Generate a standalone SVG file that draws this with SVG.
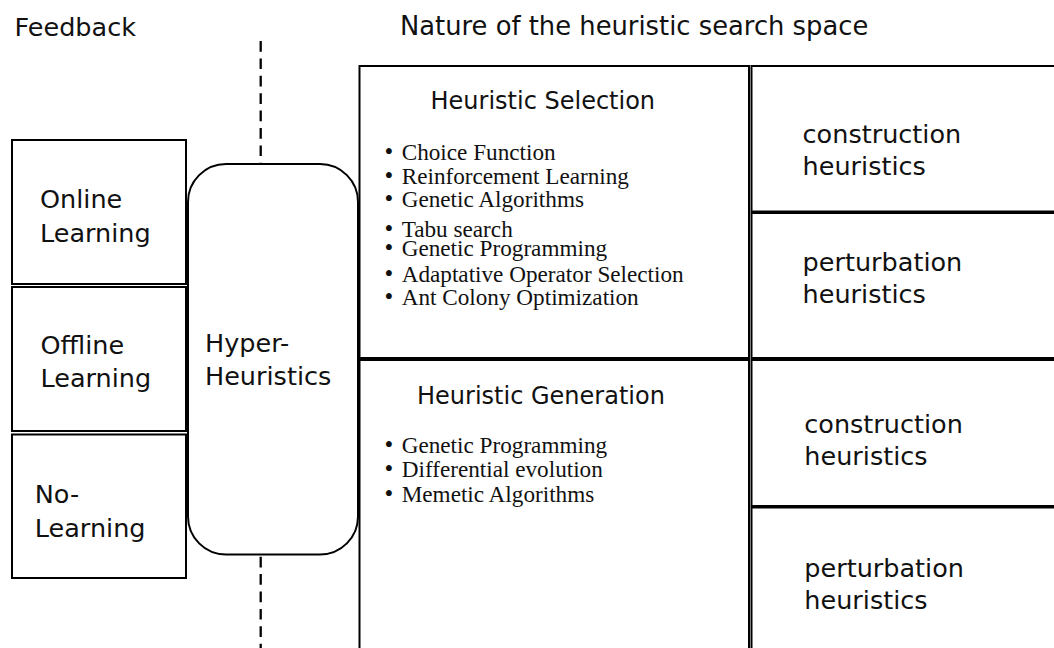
<svg xmlns="http://www.w3.org/2000/svg" width="1054" height="648" viewBox="0 0 1054 648">
  <style>
    .box { fill: #ffffff; stroke: #000000; stroke-width: 2; }
    .sans { font-family: "DejaVu Sans", "Liberation Sans", sans-serif; font-size: 25.5px; fill: #111111; }
    .title { font-size: 24px; }
    .serif { font-family: "Liberation Serif", "DejaVu Serif", serif; font-size: 23.2px; fill: #111111; }
    .dot { font-size: 25px; }
    .sep { stroke: #000000; stroke-width: 2.3; stroke-dasharray: 10.7 6.7; fill: none; }
  </style>
  <rect x="0" y="0" width="1054" height="648" fill="#ffffff"/>

  <!-- column headings -->
  <g id="headings">
    <text class="sans" x="14.5" y="36">Feedback</text>
    <text class="sans" x="400" y="35" style="font-size:25.8px">Nature of the heuristic search space</text>
  </g>

  <!-- dashed separator between feedback and search space -->
  <g id="connectors">
    <line class="sep" x1="260.7" y1="41" x2="260.7" y2="164"/>
    <line class="sep" x1="260.7" y1="556.7" x2="260.7" y2="648"/>
  </g>

  <!-- feedback categories -->
  <g id="online-learning">
    <rect class="box" x="12" y="140" width="174" height="144"/>
    <text class="sans" x="40" y="208">Online</text>
    <text class="sans" x="40" y="242">Learning</text>
  </g>
  <g id="offline-learning">
    <rect class="box" x="12" y="287" width="174" height="144"/>
    <text class="sans" x="40.5" y="354">Offline</text>
    <text class="sans" x="40.5" y="387">Learning</text>
  </g>
  <g id="no-learning">
    <rect class="box" x="12" y="434.5" width="174" height="143.5"/>
    <text class="sans" x="34.8" y="503">No-</text>
    <text class="sans" x="34.8" y="537">Learning</text>
  </g>

  <!-- central node -->
  <g id="hyper-heuristics">
    <rect class="box" x="188" y="164" width="170" height="390.5" rx="38" ry="38"/>
    <text class="sans" x="205" y="352">Hyper-</text>
    <text class="sans" x="205" y="385">Heuristics</text>
  </g>

  <!-- heuristic selection -->
  <g id="heuristic-selection">
    <rect class="box" x="359.5" y="66" width="389.5" height="292"/>
    <text class="sans title" x="430.5" y="108.5">Heuristic Selection</text>
    <text class="serif"><tspan class="dot" x="384.5" y="160">•</tspan><tspan x="401.7" y="160">Choice Function</tspan></text>
    <text class="serif"><tspan class="dot" x="384.5" y="184">•</tspan><tspan x="401.7" y="184">Reinforcement Learning</tspan></text>
    <text class="serif"><tspan class="dot" x="384.5" y="207.3">•</tspan><tspan x="401.7" y="207.3">Genetic Algorithms</tspan></text>
    <text class="serif"><tspan class="dot" x="384.5" y="236.7">•</tspan><tspan x="401.7" y="236.7">Tabu search</tspan></text>
    <text class="serif"><tspan class="dot" x="384.5" y="256">•</tspan><tspan x="401.7" y="256">Genetic Programming</tspan></text>
    <text class="serif"><tspan class="dot" x="384.5" y="281.7">•</tspan><tspan x="401.7" y="281.7">Adaptative Operator Selection</tspan></text>
    <text class="serif"><tspan class="dot" x="384.5" y="305">•</tspan><tspan x="401.7" y="305">Ant Colony Optimization</tspan></text>
  </g>

  <!-- heuristic generation -->
  <g id="heuristic-generation">
    <rect class="box" x="359.5" y="360" width="389.5" height="300"/>
    <text class="sans title" x="417" y="403.5">Heuristic Generation</text>
    <text class="serif"><tspan class="dot" x="384.5" y="452.7">•</tspan><tspan x="401.7" y="452.7">Genetic Programming</tspan></text>
    <text class="serif"><tspan class="dot" x="384.5" y="476.7">•</tspan><tspan x="401.7" y="476.7">Differential evolution</tspan></text>
    <text class="serif"><tspan class="dot" x="384.5" y="501.7">•</tspan><tspan x="401.7" y="501.7">Memetic Algorithms</tspan></text>
  </g>

  <!-- heuristic kinds -->
  <g id="selection-construction">
    <rect class="box" x="751.5" y="66" width="310" height="145.5"/>
    <text class="sans" x="802.6" y="142.5">construction</text>
    <text class="sans" x="802.6" y="175.3">heuristics</text>
  </g>
  <g id="selection-perturbation">
    <rect class="box" x="751.5" y="213" width="310" height="145"/>
    <text class="sans" x="802.6" y="270.7">perturbation</text>
    <text class="sans" x="802.6" y="303.3">heuristics</text>
  </g>
  <g id="generation-construction">
    <rect class="box" x="751.5" y="360" width="310" height="146"/>
    <text class="sans" x="804.3" y="433.3">construction</text>
    <text class="sans" x="804.3" y="465">heuristics</text>
  </g>
  <g id="generation-perturbation">
    <rect class="box" x="751.5" y="507.5" width="310" height="200"/>
    <text class="sans" x="804.3" y="576.7">perturbation</text>
    <text class="sans" x="804.3" y="609">heuristics</text>
  </g>
</svg>
